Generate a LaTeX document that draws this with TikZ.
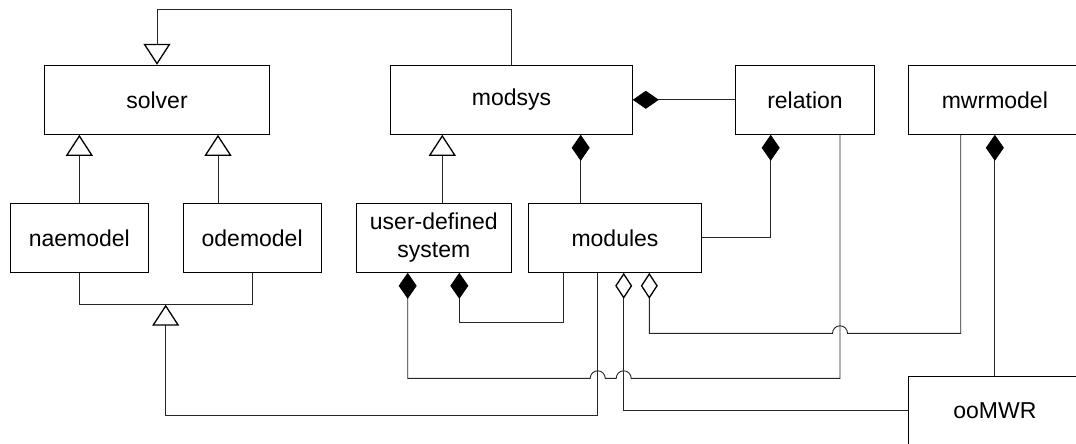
\documentclass[tikz,border=0pt]{standalone}
\usepackage{fontspec}
\setmainfont{Liberation Sans}
\usetikzlibrary{arrows.meta}
\begin{document}
\begin{tikzpicture}[x=1pt,y=-1pt,
  box/.style={draw=black, line width=1pt, minimum height=69pt, inner sep=0pt,
    align=center, font=\fontsize{23}{28.5}\selectfont},
  conn/.style={draw=black!85, line width=0.9pt},
  gen/.style={conn, -{Triangle[open, length=21pt, width=27pt, line width=1.3pt, color=black]}},
  comp/.style={conn, -{Diamond[length=26pt, width=18pt, line width=0.8pt, color=black, fill=black]}},
  agg/.style={conn, -{Diamond[open, length=26pt, width=17pt, line width=1.3pt, color=black]}}
]
\useasboundingbox (0,0) rectangle (1076,444);
\clip (0,0) rectangle (1076,444);

% boxes
\node[box, minimum width=224.6pt] (solver)   at (157,99.8)    {solver};
\node[box, minimum width=241.6pt] (modsys)   at (511.5,99.8)  {modsys};
\node[box, minimum width=138.6pt] (relation) at (805,99.8)    {relation};
\node[box, minimum width=172.3pt] (mwrmodel) at (994.85,99.8) {mwrmodel};
\node[box, minimum width=138.7pt] (naemodel) at (79.35,237.8) {naemodel};
\node[box, minimum width=138.3pt] (odemodel) at (252.15,237.8){odemodel};
\node[box, minimum width=155.7pt] (userdef)  at (433.85,237.8){user-defined\\system};
\node[box, minimum width=172.6pt] (modules)  at (615,237.8)   {modules};
\node[box, minimum width=172.3pt] (oomwr)    at (994.85,410.5){ooMWR};

% helper coordinates
\coordinate (topL)  at (157,9);
\coordinate (joinT) at (165.7,304.7);
\coordinate (joinB) at (165.7,415.3);

% generalizations
\draw[gen] (modsys.north) |- (topL) -- (solver.north);
\draw[gen] (naemodel.north) -- (naemodel.north |- solver.south);
\draw[gen] ([xshift=-34.15pt]odemodel.north) -- ([xshift=-34.15pt]odemodel.north |- solver.south);
\draw[conn] (naemodel.south) |- (joinT) -| (odemodel.south);
\draw[gen] ([xshift=-17.3pt]modules.south) |- (joinB) -- (joinT);
\draw[gen] ([xshift=8.45pt]userdef.north) -- ([xshift=8.45pt]userdef.north |- modsys.south);

% compositions
\draw[comp] ([xshift=-34.3pt]modules.north) -- ([xshift=-34.3pt]modules.north |- modsys.south);
\draw[comp] (relation.west) -- (relation.west -| modsys.east);
\draw[comp] (modules.east) -| ([xshift=-34.3pt]relation.south);
\draw[comp] ([xshift=-51.7pt]modules.south) -- ++(0,50) -| ([xshift=25.45pt]userdef.south);
\draw[comp] ([xshift=35pt]relation.south) |- (631.2,378.3)
   arc[start angle=0, end angle=180, radius=7.5pt] -- (605.2,378.3)
   arc[start angle=0, end angle=180, radius=7.5pt] -- (407.7,378.3)
   -- ([xshift=-26.15pt]userdef.south);
\draw[comp] (oomwr.north) -- (oomwr.north |- mwrmodel.south);

% aggregations
\draw[agg] ([xshift=-34.15pt]mwrmodel.south) |- (847.5,333.3)
   arc[start angle=0, end angle=180, radius=7.5pt] -- (649.3,333.3)
   -- ([xshift=34.3pt]modules.south);
\draw[agg] (oomwr.west) -| ([xshift=8.7pt]modules.south);
\end{tikzpicture}
\end{document}
